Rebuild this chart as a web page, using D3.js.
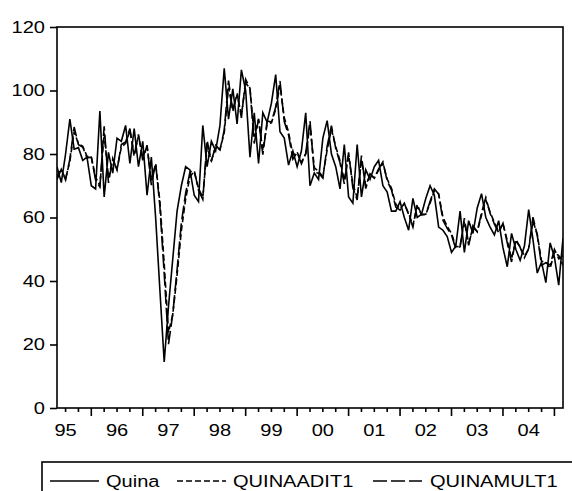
<!DOCTYPE html>
<html>
<head>
<meta charset="utf-8">
<script src="https://cdn.jsdelivr.net/npm/d3@7"></script>
<style>
  body { margin: 0; background: #fff; }
  svg { display: block; font-family: Arial, "Liberation Sans", sans-serif; }
</style>
</head>
<body>
<script>
// monthly observations, 1995:05 .. 2005:03 (month index counted from 1995:01)
const firstMonth = 4;

const quina = [
  76, 71, 80, 91, 81.5, 82, 78, 79,
  70, 69, 93.5, 66.5, 80.5, 74, 85, 84, 89, 77, 88, 76,
  84, 67, 79, 60, 37, 14.5, 32, 47, 62, 70, 76, 75,
  67, 65, 89, 76, 84, 81, 89, 107, 91, 100.5, 89.5, 106.5,
  100, 79, 93, 77, 93, 90, 96, 105, 87, 85, 76.5, 81,
  76, 81, 93, 70, 74, 72, 85, 90.5, 80, 76, 69, 83,
  66.5, 64.5, 83, 66.5, 75, 72, 76, 78, 70, 68, 62, 62,
  65, 60, 56, 66, 60, 61, 66, 70, 67, 57, 56, 54,
  49, 51, 62, 49, 59, 55, 63, 67.5, 60, 57, 54.5, 59,
  50.5, 44.5, 55, 50, 46.5, 51, 62.5, 53, 42.5, 46, 39.5, 52,
  47.5, 38.7, 53.5
];

const quinaAdit1 = [
  73, 75.1, 72.2, 77.7, 87.0, 83.2, 82.4, 79.3,
  79.1, 72.7, 70.1, 86.5, 72.5, 78.2, 75.3, 82.1, 83.4, 87.3, 80.1, 85.6,
  78.9, 82.5, 71.7, 76.8, 65.0, 45.4, 23.8, 29.5, 41.8, 55.9, 65.8, 72.9,
  74.4, 69.2, 66.3, 82.2, 77.9, 82.2, 81.4, 86.7, 100.9, 94.0, 98.6, 92.3,
  102.3, 100.7, 85.5, 90.8, 81.1, 89.4, 89.8, 94.1, 101.7, 91.4, 86.9, 79.7,
  80.6, 77.4, 79.9, 89.1, 75.7, 74.5, 72.8, 81.3, 87.8, 82.3, 77.9, 71.7,
  79.6, 70.5, 66.3, 78.0, 70.0, 73.5, 72.4, 74.9, 77.1, 72.1, 69.2, 64.2,
  62.7, 64.3, 61.3, 57.6, 63.5, 61.0, 61.0, 64.5, 68.4, 67.4, 60.1, 57.2,
  55.0, 50.8, 50.9, 58.7, 51.9, 56.9, 55.6, 60.8, 65.5, 61.7, 58.4, 55.7,
  58.0, 52.8, 47.0, 52.6, 50.8, 47.8, 50.0, 58.8, 54.7, 46.2, 46.1, 44,
  49, 48, 45
];

const quinaMult1 = [
  72, 75.2, 71.8, 78.4, 88.5, 82.9, 82.2, 78.8,
  79.0, 71.8, 69.6, 88.7, 70.9, 78.6, 74.9, 83.0, 83.8, 88.0, 79.2, 86.2,
  78.0, 82.8, 70.2, 77.2, 63.4, 42.3, 20.1, 29.6, 43.5, 58.3, 67.7, 74.3,
  74.9, 68.6, 65.7, 84.3, 77.7, 82.7, 81.3, 87.5, 103.1, 93.4, 99.1, 91.4,
  103.5, 100.7, 83.3, 91.1, 79.8, 90.4, 90.1, 94.8, 103.0, 90.2, 86.0, 78.4,
  80.5, 76.9, 80.2, 90.4, 74.1, 74.0, 72.4, 82.5, 88.9, 81.8, 77.2, 70.6,
  80.5, 69.3, 65.5, 79.5, 69.1, 73.8, 72.4, 75.3, 77.5, 71.5, 68.7, 63.3,
  62.3, 64.5, 60.9, 57.0, 64.2, 60.8, 61.0, 65.0, 69.0, 67.4, 59.1, 56.6,
  54.5, 50.1, 50.8, 59.8, 51.2, 57.4, 55.5, 61.5, 66.3, 61.3, 57.9, 55.2,
  58.2, 52.0, 46.0, 53.2, 50.6, 47.3, 50.3, 60.1, 54.4, 44.9, 45.8, 45,
  50, 47, 48
];

const yearLabels = ["95", "96", "97", "98", "99", "00", "01", "02", "03", "04"];
const yTicks = [0, 20, 40, 60, 80, 100, 120];

const seriesNames = ["Quina", "QUINAADIT1", "QUINAMULT1"];
const dashes = [null, "6,3", "14,4"];

const width = 572, height = 491;
const margin = {top: 27, right: 9, bottom: 83, left: 57};
const stretch = 1.18; // text in the original is a bit wider than plain Arial

const months = quina.map((d, i) => firstMonth + i);

const x = d3.scaleLinear()
    .domain([months[0], months[months.length - 1]])
    .range([margin.left, width - margin.right]);

const y = d3.scaleLinear()
    .domain([0, 120])
    .range([height - margin.bottom, margin.top]);

const svg = d3.select("body").append("svg")
    .attr("width", width)
    .attr("height", height);

svg.append("defs").append("clipPath")
    .attr("id", "clip")
    .append("rect")
    .attr("x", margin.left)
    .attr("y", margin.top)
    .attr("width", width - margin.left - margin.right)
    .attr("height", height - margin.top - margin.bottom);

// helper: place a horizontally stretched label
function label(g, tx, ty, anchor, str) {
  return g.append("text")
      .attr("transform", `translate(${tx},${ty}) scale(${stretch},1)`)
      .attr("text-anchor", anchor)
      .attr("font-size", 17)
      .attr("fill", "#000")
      .text(str);
}

// lines
const line = d3.line()
    .x((d, i) => x(months[i]))
    .y(d => y(d));

const plot = svg.append("g").attr("clip-path", "url(#clip)");
[quina, quinaAdit1, quinaMult1].forEach((s, k) => {
  plot.append("path")
      .datum(s)
      .attr("fill", "none")
      .attr("stroke", "#000")
      .attr("stroke-width", 1.6)
      .attr("stroke-dasharray", dashes[k])
      .attr("d", line);
});

// frame
svg.append("rect")
    .attr("x", margin.left)
    .attr("y", margin.top)
    .attr("width", width - margin.left - margin.right)
    .attr("height", height - margin.top - margin.bottom)
    .attr("fill", "none")
    .attr("stroke", "#000")
    .attr("stroke-width", 1.6);

// y axis
const yAxis = svg.append("g")
    .attr("transform", `translate(${margin.left},0)`)
    .call(d3.axisLeft(y).tickValues(yTicks).tickSize(7).tickFormat(""))
    .call(g => g.select(".domain").remove())
    .call(g => g.selectAll(".tick line").attr("stroke-width", 1.6));

yTicks.forEach(v => label(yAxis, -12, y(v) + 5.5, "end", v));

// x axis: quarterly ticks, longer at each year start
const quarters = d3.range(0, 124, 3).filter(m => m >= months[0] && m <= months[months.length - 1]);
const xAxis = svg.append("g")
    .attr("transform", `translate(0,${height - margin.bottom})`);

xAxis.selectAll("line")
    .data(quarters)
    .join("line")
    .attr("x1", d => x(d))
    .attr("x2", d => x(d))
    .attr("y1", 0)
    .attr("y2", d => d % 12 === 0 ? 8 : 4)
    .attr("stroke", "#000")
    .attr("stroke-width", 1.6);

yearLabels.forEach((d, i) => label(xAxis, x(i * 12 + 6), 28, "middle", d));

// legend
const legend = svg.append("g");
legend.append("rect")
    .attr("x", 42)
    .attr("y", 462)
    .attr("width", 540)
    .attr("height", 40)
    .attr("fill", "none")
    .attr("stroke", "#000")
    .attr("stroke-width", 1.6);

const legendX = [50, 177, 373];
const textX = [106, 233, 430];
seriesNames.forEach((name, k) => {
  legend.append("line")
      .attr("x1", legendX[k])
      .attr("x2", legendX[k] + 49)
      .attr("y1", 481)
      .attr("y2", 481)
      .attr("stroke", "#000")
      .attr("stroke-width", 1.5)
      .attr("stroke-dasharray", dashes[k]);
  label(legend, textX[k], 487, "start", name);
});
</script>
</body>
</html>
